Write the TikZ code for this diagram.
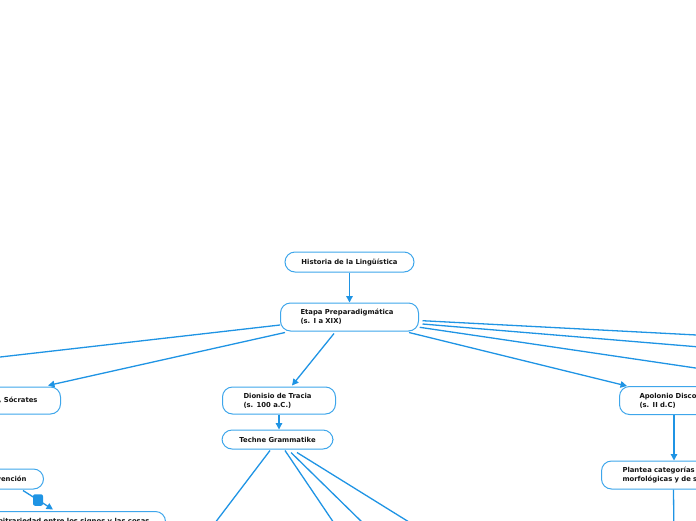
\documentclass[tikz,border=0pt]{standalone}
\usepackage{fontspec}
\setmainfont{DejaVu Sans}
\usetikzlibrary{arrows.meta,calc}
\definecolor{lineblue}{RGB}{31,148,228}
\definecolor{boxblue}{RGB}{62,166,235}
\definecolor{txt}{RGB}{20,20,20}
\tikzset{
  box/.style={draw=boxblue, line width=1pt, fill=white, rounded corners=10pt,
    inner ysep=0pt, text=txt, font=\bfseries\fontsize{6.84}{9}\selectfont},
  link/.style={draw=lineblue, line width=1.3pt},
  arr/.style={link, -{Triangle[length=6.5pt,width=6.5pt]}},
  marker/.style={fill=lineblue, draw=none, rounded corners=2pt, minimum width=10pt, minimum height=11.5pt, inner sep=0pt},
}
\begin{document}
\begin{tikzpicture}[x=1pt,y=-1pt]
\useasboundingbox (0,0) rectangle (696,520);
\clip (0,0) rectangle (696,520);

% nodes
\node[box, minimum width=129pt, minimum height=20pt, align=center] (hist) at (349.5,262) {Historia de la Lingüística};
\node[box, anchor=west, text width=98pt, inner xsep=20pt, minimum height=28pt, align=left] (etapa) at (280,317) {Etapa Preparadigmática\\(s. I a XIX)};
\node[box, anchor=east, text width=75pt, inner xsep=23pt, minimum height=27pt, align=right] (socr) at (61,400.5) {, Sócrates};
\node[box, anchor=west, text width=71pt, inner xsep=21pt, minimum height=27pt, align=left] (dion) at (222,400.5) {Dionisio de Tracia\\(s. 100 a.C.)};
\node[box, minimum width=111pt, minimum height=19pt] (techne) at (277.5,439.5) {Techne Grammatike};
\node[box, anchor=west, text width=90pt, inner xsep=20pt, minimum height=28pt, align=left] (apol) at (619,400.5) {Apolonio Discolo\\(s. II d.C)};
\node[box, anchor=west, text width=120pt, inner xsep=21pt, minimum height=28pt, align=left] (plan) at (601,475) {Plantea categorías\\morfológicas y de sintaxis};
\node[box, anchor=east, inner xsep=17pt, minimum height=20pt] (conv) at (44,479) {Convención};
\node[box, anchor=east, inner xsep=16pt, minimum height=21pt] (arb) at (166,522) {Arbitrariedad entre los signos y las cosas};

% free ends
\coordinate (offL) at (-40,361.6);
\coordinate (offR1) at (760,338.3);
\coordinate (offR2) at (760,352);
\coordinate (offR3) at (760,377.5);
\coordinate (offP) at (674,545);
\coordinate (offT1) at (202,540);
\coordinate (offT2) at (345.4,540);
\coordinate (offT3) at (380.3,540);
\coordinate (offT4) at (438,540);

% connectors
\draw[arr] (hist.south) -- (hist.south |- etapa.north);
\draw[link] ($(etapa.west)+(0,8)$) -- (offL);
\draw[arr] ($(etapa.south west)+(5,1)$) -- ($(socr.north east)+(-13,-1)$);
\draw[arr] ($(etapa.south west)+(54,2)$) -- ($(dion.north west)+(70,-1)$);
\draw[arr] (dion.south) -- (dion.south |- techne.north);
\draw[arr] ($(etapa.south east)+(-10,1)$) -- ($(apol.north west)+(8,0)$);
\draw[link] ($(etapa.east)+(3.5,3.7)$) -- (offR1);
\draw[link] ($(etapa.east)+(3.5,7)$) -- (offR2);
\draw[link] ($(etapa.east)+(0.7,10.3)$) -- (offR3);
\draw[arr] ($(apol.south west)+(55,0)$) -- ($(plan.north west)+(73,0)$);
\draw[link] ($(plan.south west)+(72.5,0)$) -- (offP);
\draw[link] ($(techne.south)+(-7.5,1)$) -- (offT1);
\draw[link] ($(techne.south)+(7.5,1)$) -- (offT2);
\draw[link] ($(techne.south)+(13.5,3)$) -- (offT3);
\draw[link] ($(techne.south)+(19.5,3)$) -- (offT4);
\draw[arr] ($(conv.south east)+(-21,1)$) -- node[marker] (rel) {} ($(arb.north east)+(-113,-1.5)$);
\end{tikzpicture}
\end{document}
